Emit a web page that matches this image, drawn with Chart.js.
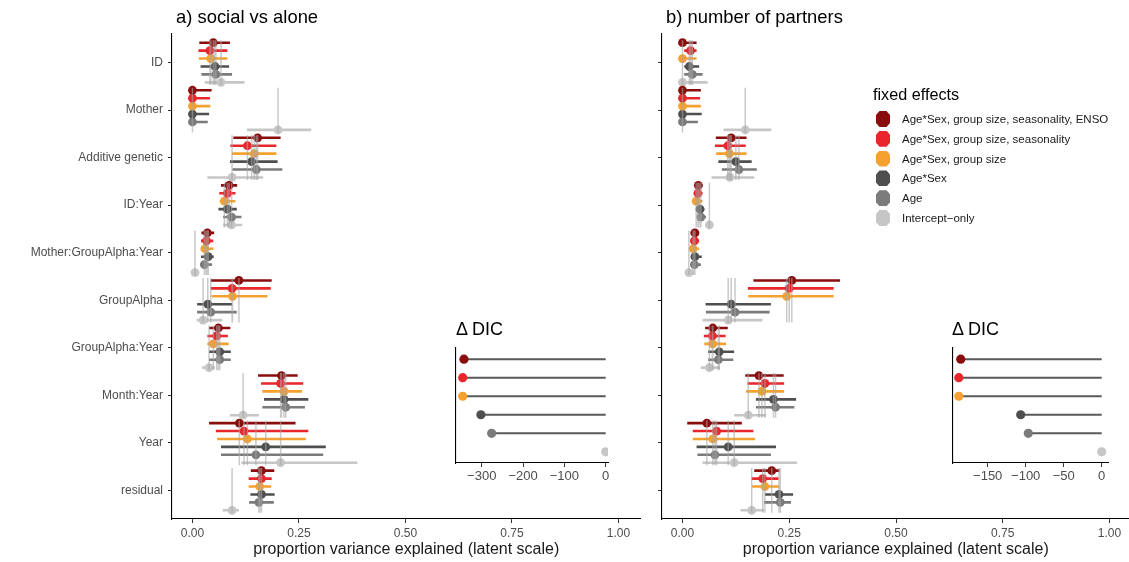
<!DOCTYPE html>
<html><head><meta charset="utf-8">
<script src="https://cdn.jsdelivr.net/npm/chart.js@4.4.1/dist/chart.umd.min.js"></script>
<style>
body{margin:0;width:1129px;height:562px;position:relative;background:#fff;font-family:"Liberation Sans",Arial,sans-serif;overflow:hidden}
.box{position:absolute}
.ttl{position:absolute;font-size:18.4px;color:#000;white-space:nowrap;line-height:20px}
.dic{position:absolute;font-size:18px;color:#000;white-space:nowrap;line-height:20px}
.lgt{position:absolute;font-size:16.2px;color:#000;white-space:nowrap;line-height:18px}
.lgi{position:absolute;font-size:11.5px;color:#1a1a1a;white-space:nowrap;line-height:14px}
.mk{position:absolute;width:14px;height:16px;clip-path:polygon(25% 0,75% 0,100% 25%,100% 75%,75% 100%,25% 100%,0 75%,0 25%)}
</style></head><body>
<div class="box" style="left:0;top:0;width:645px;height:562px"><canvas id="cA" width="645" height="562"></canvas></div>
<div class="box" style="left:645px;top:0;width:489px;height:562px"><canvas id="cB" width="489" height="562"></canvas></div>
<div class="box" style="left:440px;top:340px;width:175px;height:150px"><canvas id="iA" width="175" height="150"></canvas></div>
<div class="box" style="left:936px;top:340px;width:180px;height:150px"><canvas id="iB" width="180" height="150"></canvas></div>
<div class="ttl" style="left:176px;top:7px">a) social vs alone</div>
<div class="ttl" style="left:666px;top:7px">b) number of partners</div>
<div class="dic" style="left:456px;top:319px">Δ DIC</div>
<div class="dic" style="left:952px;top:319px">Δ DIC</div>
<div id="legend"></div>
<script>
const categories = ['ID','Mother','Additive genetic','ID:Year','Mother:GroupAlpha:Year','GroupAlpha','GroupAlpha:Year','Month:Year','Year','residual'];
const models = ['Age*Sex, group size, seasonality, ENSO','Age*Sex, group size, seasonality','Age*Sex, group size','Age*Sex','Age','Intercept\u2212only'];
const xTicks = [0, 0.25, 0.5, 0.75, 1];
const dicTicksA = [-300, -200, -100, 0];
const dicTicksB = [-150, -100, -50, 0];

// panel a (social vs alone): one row per category, one column per model
const socialEst = [
  [0.049,0.041,0.043,0.053,0.055,0.067],
  [0,0,0,0,0,0.201],
  [0.153,0.129,0.145,0.139,0.150,0.093],
  [0.086,0.082,0.075,0.082,0.092,0.092],
  [0.035,0.033,0.029,0.037,0.028,0.006],
  [0.109,0.093,0.094,0.036,0.043,0.025],
  [0.061,0.057,0.049,0.064,0.064,0.039],
  [0.209,0.207,0.215,0.215,0.219,0.119],
  [0.110,0.121,0.129,0.172,0.149,0.207],
  [0.162,0.162,0.158,0.162,0.156,0.093]
];
const socialLo = [
  [0.016,0.014,0.015,0.019,0.021,0.029],
  [0,0,0,0,0,0.128],
  [0.096,0.089,0.093,0.088,0.094,0.035],
  [0.067,0.063,0.064,0.061,0.072,0.072],
  [0.021,0.020,0.020,0.020,0.018,0.001],
  [0.043,0.043,0.045,0.011,0.011,0.010],
  [0.039,0.035,0.035,0.039,0.039,0.023],
  [0.154,0.161,0.164,0.168,0.164,0.088],
  [0.039,0.055,0.058,0.067,0.067,0.115],
  [0.137,0.132,0.132,0.136,0.133,0.071]
];
const socialHi = [
  [0.088,0.082,0.082,0.086,0.093,0.122],
  [0.045,0.041,0.042,0.039,0.036,0.279],
  [0.207,0.197,0.197,0.200,0.211,0.166],
  [0.105,0.101,0.101,0.104,0.115,0.117],
  [0.051,0.049,0.049,0.050,0.046,0.013],
  [0.186,0.184,0.176,0.093,0.104,0.070],
  [0.089,0.083,0.085,0.090,0.090,0.053],
  [0.247,0.260,0.257,0.272,0.264,0.156],
  [0.242,0.272,0.266,0.313,0.307,0.387],
  [0.192,0.186,0.185,0.193,0.191,0.109]
];
// panel b (number of partners)
const partnersEst = [
  [0,0.019,0,0.016,0.023,0],
  [0,0,0,0,0,0.147],
  [0.114,0.106,0.110,0.125,0.132,0.111],
  [0.037,0.036,0.032,0.041,0.043,0.063],
  [0.029,0.028,0.025,0.029,0.028,0.015],
  [0.256,0.250,0.244,0.114,0.123,0.107],
  [0.071,0.070,0.071,0.086,0.084,0.063],
  [0.179,0.193,0.186,0.213,0.218,0.154],
  [0.057,0.080,0.071,0.107,0.076,0.121],
  [0.209,0.188,0.193,0.226,0.229,0.162]
];
const partnersLo = [
  [0,0.004,0,0.004,0.004,0],
  [0,0,0,0,0,0.096],
  [0.078,0.076,0.079,0.084,0.092,0.068],
  [0.028,0.028,0.027,0.032,0.035,0.058],
  [0.019,0.019,0.020,0.023,0.022,0.012],
  [0.166,0.153,0.154,0.054,0.055,0.047],
  [0.053,0.050,0.051,0.060,0.060,0.043],
  [0.147,0.152,0.149,0.172,0.172,0.121],
  [0.011,0.024,0.024,0.033,0.035,0.047],
  [0.168,0.162,0.163,0.193,0.191,0.136]
];
const partnersHi = [
  [0.033,0.033,0.033,0.039,0.047,0.059],
  [0.043,0.041,0.043,0.045,0.036,0.208],
  [0.150,0.148,0.150,0.162,0.174,0.168],
  [0.047,0.047,0.047,0.051,0.055,0.067],
  [0.039,0.039,0.039,0.045,0.043,0.018],
  [0.369,0.354,0.354,0.207,0.204,0.187],
  [0.106,0.101,0.102,0.121,0.119,0.088],
  [0.237,0.238,0.238,0.266,0.262,0.196],
  [0.139,0.166,0.170,0.219,0.207,0.268],
  [0.227,0.225,0.226,0.259,0.254,0.191]
];
const dicSocial = [-343, -346, -346, -302, -276, 0];
const dicPartners = [-185.5, -188, -188, -106.6, -96.6, 0];

// styles
const colors = ['#8a0d0d','#e8262c','#f5a12f','#4f4f4f','#7b7b7b','#c6c6c6'];
const F = '"Liberation Sans", Arial, sans-serif';

function panelDatasets(est, lo, hi) {
  const ds = [];
  const vData = [];
  models.forEach((m, mi) => {
    const ci = [], pts = [];
    categories.forEach((c, k) => {
      const y = k + 1 + (mi - 2.5) / 6;
      ci.push({x: lo[k][mi], y}, {x: hi[k][mi], y}, {x: null, y: null});
      pts.push({x: est[k][mi], y});
      vData.push({x: est[k][mi], y: k + 1 - 0.47}, {x: est[k][mi], y: k + 1 + 0.47}, {x: null, y: null});
    });
    ds.push({data: ci, showLine: true, spanGaps: false, borderColor: colors[mi], borderWidth: 2.6, pointRadius: 0, order: 3});
    ds.push({data: pts, showLine: false, pointRadius: 4.4, pointBackgroundColor: colors[mi], pointBorderWidth: 0, order: 2});
  });
  ds.push({data: vData, showLine: true, spanGaps: false, borderColor: 'rgba(165,165,165,0.6)', borderWidth: 1.5, pointRadius: 0, order: 1});
  return ds;
}

function mainChart(id, est, lo, hi, yWidth, padRight, xMax, showLabels) {
  new Chart(document.getElementById(id), {
    type: 'scatter',
    data: {datasets: panelDatasets(est, lo, hi)},
    options: {
      responsive: false, animation: false, events: [],
      layout: {padding: {top: 34, right: padRight, left: 0, bottom: 0}},
      plugins: {legend: {display: false}, tooltip: {enabled: false}},
      scales: {
        x: {
          type: 'linear', min: -0.048, max: xMax,
          afterBuildTicks: s => { s.ticks = xTicks.map(v => ({value: v})); },
          ticks: {callback: v => Number(v).toFixed(2), color: '#4d4d4d', font: {size: 12, family: F}, padding: 3, maxRotation: 0, autoSkip: false},
          grid: {drawOnChartArea: false, color: '#333', tickLength: 4},
          border: {color: '#000', width: 1.1},
          title: {display: true, text: 'proportion variance explained (latent scale)', color: '#1a1a1a', font: {size: 16, family: F}, padding: {top: 0, bottom: 3}},
          afterFit: s => { s.height = 43; s.paddingLeft = 0; s.paddingRight = 0; }
        },
        y: {
          type: 'linear', min: 0.4, max: 10.6, reverse: true,
          afterBuildTicks: s => { s.ticks = categories.map((c, i) => ({value: i + 1})); },
          ticks: {callback: v => showLabels ? categories[Math.round(v) - 1] : '', color: '#4d4d4d', font: {size: 12, family: F}, padding: 5, autoSkip: false},
          grid: {drawOnChartArea: false, color: '#333', tickLength: 4},
          border: {color: '#000', width: 1.1},
          afterFit: s => { s.width = yWidth; s.paddingTop = 0; s.paddingBottom = 0; }
        }
      }
    }
  });
}

function insetChart(id, dic, min, max, ticks, yWidth, padRight) {
  const seg = [];
  dic.forEach((d, i) => { if (d !== 0) seg.push({x: d, y: i + 1}, {x: 0, y: i + 1}, {x: null, y: null}); });
  new Chart(document.getElementById(id), {
    type: 'scatter',
    data: {datasets: [
      {data: seg, showLine: true, spanGaps: false, borderColor: '#595959', borderWidth: 2, pointRadius: 0, order: 2},
      {data: dic.map((d, i) => ({x: d, y: i + 1})), showLine: false, pointRadius: 4.6, pointBackgroundColor: colors, pointBorderWidth: 0, order: 1}
    ]},
    options: {
      responsive: false, animation: false, events: [],
      layout: {padding: {top: 8, right: padRight, left: 0, bottom: 0}},
      plugins: {legend: {display: false}, tooltip: {enabled: false}},
      scales: {
        x: {
          type: 'linear', min, max,
          afterBuildTicks: s => { s.ticks = ticks.map(v => ({value: v})); },
          ticks: {callback: v => String(v).replace('-', '\u2212'), color: '#4d4d4d', font: {size: 13, family: F}, padding: 2, maxRotation: 0, autoSkip: false},
          grid: {drawOnChartArea: false, color: '#333', tickLength: 4},
          border: {color: '#000', width: 1.1},
          afterFit: s => { s.height = 27; s.paddingLeft = 0; s.paddingRight = 0; }
        },
        y: {
          type: 'linear', min: 0.4, max: 6.6, reverse: true,
          ticks: {display: false}, grid: {display: false},
          border: {color: '#000', width: 1.1},
          afterFit: s => { s.width = yWidth; }
        }
      }
    }
  });
}

mainChart('cA', socialEst, socialLo, socialHi, 172, 4, 1.052, true);
mainChart('cB', partnersEst, partnersLo, partnersHi, 17, 0, 1.047, false);
insetChart('iA', dicSocial, -363, 5.6, dicTicksA, 15.7, 7);
insetChart('iB', dicPartners, -196.6, 8.3, dicTicksB, 16.3, 8);

// legend (HTML)
const lg = document.getElementById('legend');
let html = '<div class="lgt" style="left:873px;top:85px">fixed effects</div>';
models.forEach((m, i) => {
  const cy = 119 + i * 19.8;
  html += `<div class="mk" style="left:876px;top:${cy - 8}px;background:${colors[i]}"></div>`;
  html += `<div class="lgi" style="left:902px;top:${cy - 7}px">${m}</div>`;
});
lg.innerHTML = html;
</script>
</body></html>
